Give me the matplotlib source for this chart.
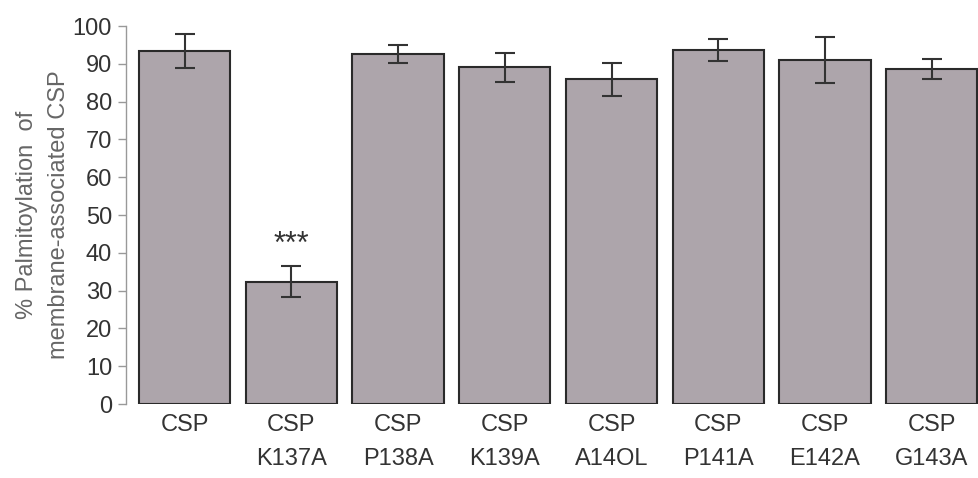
import numpy as np
import matplotlib.pyplot as plt

labels = ["CSP", "CSP\nK137A", "CSP\nP138A", "CSP\nK139A", "CSP\nA14OL", "CSP\nP141A", "CSP\nE142A", "CSP\nG143A"]
values = [93.4, 32.4, 92.6, 89.1, 85.9, 93.6, 91.0, 88.6]
errors = [4.5, 4.0, 2.4, 3.8, 4.4, 2.9, 6.0, 2.6]
yticks = [0, 10, 20, 30, 40, 50, 60, 70, 80, 90, 100]

plt.rcParams['font.family'] = ['Liberation Sans', 'DejaVu Sans']

fig = plt.figure(figsize=(9.79, 4.78), dpi=100)
ax = fig.add_axes([0.1287, 0.1548, 0.872, 0.7908])

x = np.arange(len(values))
ax.bar(x, values, width=0.855, color='#ada5ab', edgecolor='#2a2a2a', linewidth=1.5, zorder=2)
ax.errorbar(x, values, yerr=errors, fmt='none', ecolor='#333333', elinewidth=1.5,
            capsize=7, capthick=1.5, zorder=3)
ax.text(1, 42, "***", ha='center', va='center', fontsize=22, color='#333333')

ax.set_xlim(-0.55, 7.45)
ax.set_ylim(0, 100)
ax.set_yticks(yticks)
ax.set_xticks(x)
ax.set_xticklabels(labels, fontsize=17, color='#333333', linespacing=1.7)
ax.tick_params(axis='x', length=0, pad=7)
ax.tick_params(axis='y', labelsize=17, labelcolor='#333333', color='#999999',
               length=6, width=1, pad=4)

for s in ['top', 'right', 'bottom']:
    ax.spines[s].set_visible(False)
ax.spines['left'].set_color('#999999')
ax.spines['left'].set_linewidth(1)

ax.set_ylabel("% Palmitoylation  of\nmembrane-associated CSP", fontsize=17,
              color='#666666', linespacing=1.6, labelpad=2)

fig.savefig("out.png", dpi=100)
